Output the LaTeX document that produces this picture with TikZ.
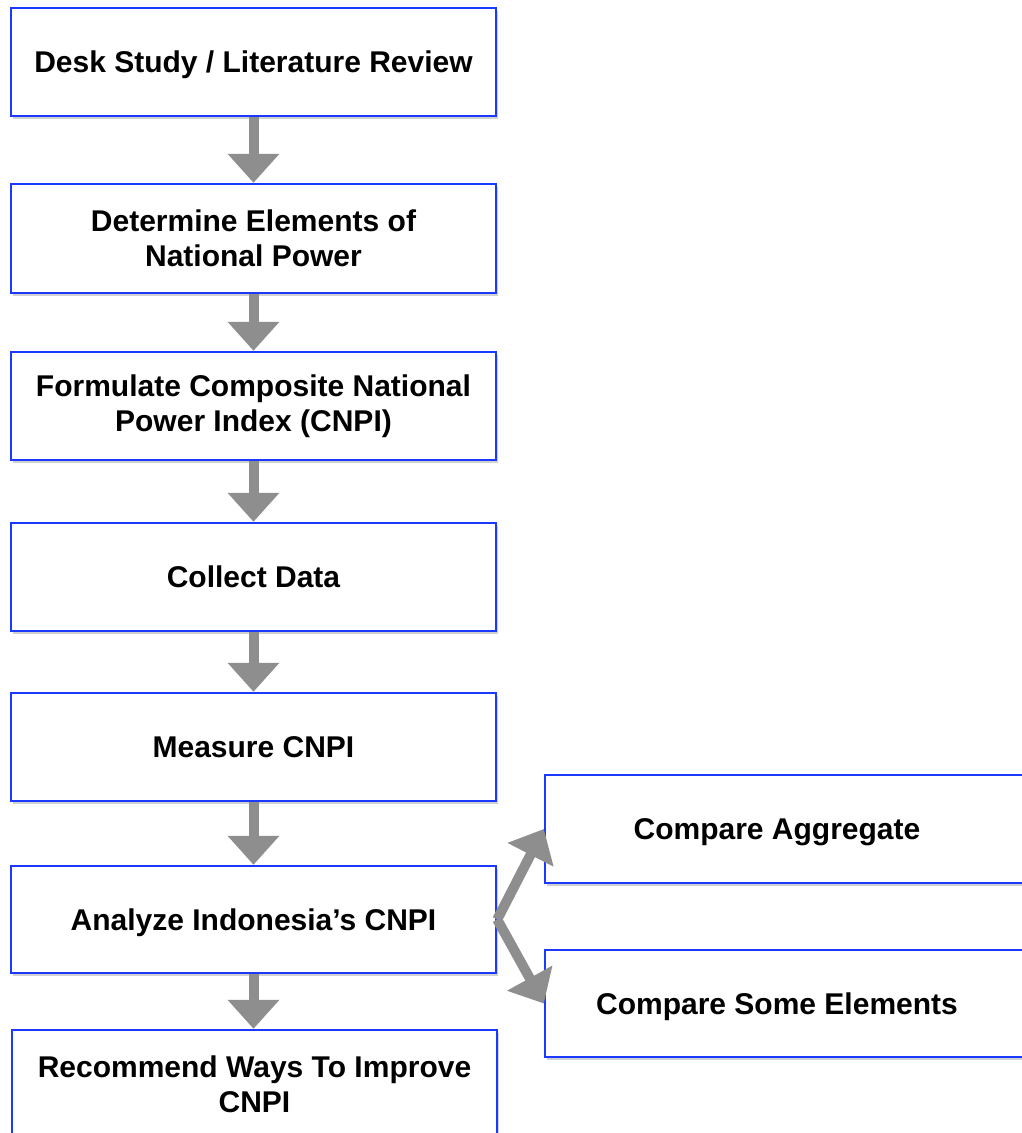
\documentclass[tikz,border=0pt]{standalone}
\usepackage{fontspec}
\setmainfont{Liberation Sans}
\usetikzlibrary{arrows.meta,shadows}
\definecolor{boxblue}{RGB}{28,58,255}
\definecolor{arrowgray}{RGB}{142,142,142}
\tikzset{
  stepbox/.style={draw=boxblue, line width=2.4pt, fill=white, rectangle,
    minimum width=485pt, minimum height=108pt, inner sep=0pt, align=center,
    font=\fontsize{30}{35}\selectfont\bfseries,
    drop shadow={shadow xshift=2pt, shadow yshift=-3pt, opacity=0.18, fill=black}},
  oneline/.style={text depth=-4pt},
  sidebox/.style={stepbox, oneline, minimum width=495pt},
  flow/.style={draw=arrowgray, line width=10pt,
    -{Triangle[width=50pt,length=29pt]}, arrowgray}
}
\begin{document}
\begin{tikzpicture}[x=1pt,y=-1pt]
\useasboundingbox (0,0) rectangle (1022,1133);
\clip (0,0) rectangle (1022,1133);
\fill[white] (0,0) rectangle (1022,1133);

\node[stepbox, oneline] (b1) at (253.5,62) {Desk Study / Literature Review};
\node[stepbox, minimum height=109pt, yshift=0pt] (b2) at (253.5,238.5) {Determine Elements of\\National Power};
\node[stepbox] (b3) at (253.5,406) {Formulate Composite National\\Power Index (CNPI)};
\node[stepbox, oneline] (b4) at (253.5,577) {Collect Data};
\node[stepbox, oneline] (b5) at (253.5,747) {Measure CNPI};
\node[stepbox, oneline, minimum height=107pt] (b6) at (253.5,919.5) {Analyze Indonesia’s CNPI};
\node[stepbox] (b7) at (254.5,1084) {Recommend Ways To Improve\\CNPI};

\node[sidebox, minimum height=108pt] (ca) at (792.5,829)
  {\hspace*{-31pt}Compare Aggregate};
\node[sidebox, minimum height=107pt] (cs) at (792.5,1003.5)
  {\hspace*{-31pt}Compare Some Elements};

\draw[flow] (b1.south) -- (b2.north);
\draw[flow] (b2.south) -- (b3.north);
\draw[flow] (b3.south) -- (b4.north);
\draw[flow] (b4.south) -- (b5.north);
\draw[flow] (b5.south) -- (b6.north);
\draw[flow] (b6.south) -- (b6.south |- b7.north);
\draw[flow] (b6.east) -- (ca.west);
\draw[flow] (b6.east) -- (cs.west);
\end{tikzpicture}
\end{document}
